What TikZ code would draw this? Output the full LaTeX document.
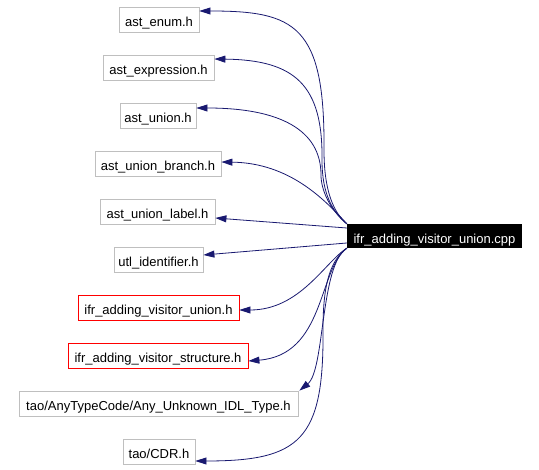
\documentclass[tikz,border=0pt]{standalone}
\usepackage{fontspec}
\setmainfont{Liberation Sans}
\usetikzlibrary{shapes,arrows.meta}
\definecolor{edgeblue}{HTML}{191970}
\definecolor{boxgray}{HTML}{BFBFBF}

\begin{document}
\begin{tikzpicture}[x=1pt, y=-1pt,
  label text/.style={inner sep=0pt, text height=15pt, text depth=0pt, font=\fontsize{13}{15}\selectfont},
  file/.style={rectangle, draw=boxgray, line width=0.8pt, minimum height=25pt, label text},
  redfile/.style={file, draw=red},
  inc/.style={draw=edgeblue, line width=0.8pt, -{Triangle[length=11pt, width=7pt]}}]
\useasboundingbox (0,0) rectangle (539,470);
\node[rectangle, fill=black, text=white, minimum width=175pt, minimum height=24pt, label text] (0) at (434.5,236) {ifr\_adding\_visitor\_union.cpp};
\node[file, minimum width=80pt] (1) at (159,19.5) {ast\_enum.h};
\node[file, minimum width=111pt] (2) at (158.5,67.5) {ast\_expression.h};
\node[file, minimum width=76pt] (3) at (158,115.5) {ast\_union.h};
\node[file, minimum width=126pt] (4) at (158,163.5) {ast\_union\_branch.h};
\node[file, minimum width=115pt] (5) at (157.5,211.5) {ast\_union\_label.h};
\node[file, minimum width=89pt] (6) at (158.5,259.5) {utl\_identifier.h};
\node[redfile, minimum width=161pt] (7) at (158.5,307.5) {ifr\_adding\_visitor\_union.h};
\node[redfile, minimum width=180pt] (8) at (158,355.5) {ifr\_adding\_visitor\_structure.h};
\node[file, minimum width=279pt] (9) at (158.5,403.5) {tao/AnyTypeCode/Any\_Unknown\_IDL\_Type.h};
\node[file, minimum width=72pt] (10) at (159,451.5) {tao/CDR.h};

\draw[inc] (0.north west) .. controls (333,212) and (324,190) .. (324,150) .. controls (325,25) and (295,11) .. ([yshift=8.5pt]1.east);
\draw[inc] (0.north west) .. controls (333,212) and (322,195) .. (322,160) .. controls (323,85) and (295,60) .. ([yshift=8.5pt]2.east);
\draw[inc] (0.north west) .. controls (330,210) and (321,190) .. (321,175) .. controls (321,130) and (280,108) .. ([yshift=7.5pt]3.east);
\draw[inc] (0.north west) .. controls (325,200) and (290,163) .. ([yshift=1.5pt]4.east);
\draw[inc] ([yshift=8pt]0.west) -- ([yshift=-6.5pt]5.east);
\draw[inc] ([yshift=-7pt]0.west) -- ([yshift=4.5pt]6.east);
\draw[inc] (0.south west) .. controls (325,262) and (300,310) .. ([yshift=-2.5pt]7.east);
\draw[inc] (0.south west) .. controls (318,270) and (325,355) .. ([yshift=-5.5pt]8.east);
\draw[inc] (0.south west) .. controls (320,265) and (325,370) .. ([xshift=1pt]9.north east);
\draw[inc] (0.south west) .. controls (328,262) and (323,290) .. (323,330) .. controls (324,440) and (300,461) .. ([yshift=-9.5pt]10.east);
\end{tikzpicture}
\end{document}
